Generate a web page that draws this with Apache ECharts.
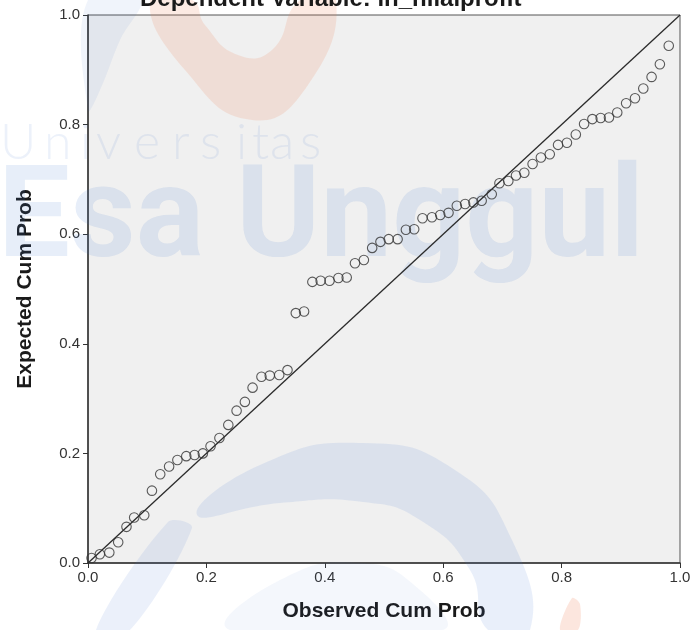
<!DOCTYPE html>
<html>
<head>
<meta charset="utf-8">
<script src="https://cdn.jsdelivr.net/npm/echarts@6/dist/echarts.min.js"></script>
<style>html,body{margin:0;padding:0;background:#fff;}#c{width:696px;height:630px;}</style>
</head>
<body>
<div id="c"></div>
<script>
// Observed cumulative probability (x) and expected cumulative probability (y)
const observed = [0.006,0.020,0.036,0.051,0.065,0.078,0.095,0.108,0.122,0.137,0.151,0.166,0.180,0.194,0.207,0.222,0.237,0.251,0.265,0.278,0.293,0.307,0.323,0.337,0.351,0.365,0.379,0.393,0.408,0.423,0.437,0.451,0.466,0.480,0.494,0.508,0.523,0.537,0.551,0.565,0.581,0.595,0.609,0.623,0.637,0.651,0.665,0.682,0.695,0.710,0.723,0.737,0.751,0.765,0.780,0.794,0.809,0.824,0.838,0.852,0.866,0.880,0.894,0.909,0.924,0.938,0.952,0.966,0.981];
const expected = [0.009,0.016,0.019,0.038,0.066,0.083,0.087,0.132,0.162,0.176,0.188,0.195,0.197,0.200,0.213,0.228,0.252,0.278,0.294,0.320,0.340,0.342,0.343,0.352,0.456,0.459,0.513,0.515,0.515,0.520,0.521,0.547,0.553,0.575,0.586,0.591,0.591,0.608,0.609,0.629,0.631,0.635,0.639,0.652,0.655,0.658,0.661,0.673,0.693,0.697,0.707,0.712,0.728,0.740,0.746,0.763,0.767,0.782,0.801,0.810,0.812,0.813,0.822,0.839,0.848,0.866,0.887,0.910,0.944];
const refLine = [[0,0],[1,1]];
const tickLabels = ['0.0','0.2','0.4','0.6','0.8','1.0'];
const titleText = 'Dependent Variable: ln_nilaiprofit';
const xName = 'Observed Cum Prob';
const yName = 'Expected Cum Prob';
const watermarkSmall = ['U','n','i','v','e','r','s','i','t','a','s'];
const watermarkBig = 'Esa Unggul';

const points = observed.map((x,i)=>[x, expected[i]]);
const fmt = v => tickLabels[Math.round(v/0.2)] || v.toFixed(1);
const font = '"Liberation Sans", Arial, sans-serif';
const smallX = [0,44,80,96,134,172,200,236,252,270,300];

const graphics = [
  {type:'polygon', z:1, silent:true, shape:{smooth:0.5, points:[[150,0],[185,70],[252,120],[308,85],[336,0],[300,0],[272,50],[238,55],[205,25],[192,0]]},
    style:{fill:'rgba(240,130,90,0.17)'}},
  {type:'polygon', z:1, silent:true, shape:{smooth:0.4, points:[[88,0],[140,0],[120,40],[100,90],[88,110]]},
    style:{fill:'rgba(70,120,210,0.08)'}},
  {type:'polygon', z:1, silent:true, shape:{smooth:0.5, points:[[197,515],[260,465],[363,443],[455,470],[512,540],[530,630],[488,630],[470,570],[420,520],[363,502],[280,503]]},
    style:{fill:'rgba(70,120,210,0.12)'}},
  {type:'polygon', z:1, silent:true, shape:{smooth:0.3, points:[[168,522],[192,528],[130,630],[96,630]]},
    style:{fill:'rgba(70,120,210,0.11)'}},
  {type:'polygon', z:1, silent:true, shape:{smooth:0.5, points:[[230,630],[280,580],[363,563],[420,590],[442,630]]},
    style:{fill:'rgba(70,120,210,0.06)'}},
  {type:'polygon', z:1, silent:true, shape:{smooth:0.3, points:[[560,630],[572,598],[580,604],[578,630]]},
    style:{fill:'rgba(240,130,90,0.2)'}},
  {type:'text', z:1, silent:true, left:-2, top:160,
    style:{text:watermarkBig, fontFamily:'Roboto, sans-serif', fontWeight:'bold', fontSize:128, fill:'rgba(70,120,210,0.13)'}}
];
watermarkSmall.forEach((ch,i)=>{
  graphics.push({type:'text', z:1, silent:true, left:smallX[i], top:118,
    style:{text:ch, fontFamily:'Lato, sans-serif', fontWeight:300, fontSize:50, fill:'rgba(70,120,210,0.10)'}});
});

const chart = echarts.init(document.getElementById('c'), null, {renderer:'canvas'});
chart.setOption({
  animation:false,
  backgroundColor:'#ffffff',
  title:{text:titleText, left:135, top:-18,
    textStyle:{fontFamily:font, fontSize:24, fontWeight:'bold', color:'#1a1a1a'}},
  grid:{left:88, right:16, top:15, bottom:67, show:true,
    backgroundColor:'#f0f0f0', borderColor:'#555', borderWidth:1},
  xAxis:{type:'value', min:0, max:1, interval:0.2,
    name:xName, nameLocation:'middle', nameGap:38,
    nameTextStyle:{fontFamily:font, fontSize:21, fontWeight:'bold', color:'#1a1a1a'},
    axisLine:{show:true, lineStyle:{color:'#333', width:1.5}},
    axisTick:{show:true, inside:false, length:5, lineStyle:{color:'#333'}},
    axisLabel:{formatter:fmt, margin:7, fontFamily:font, fontSize:15, color:'#333'},
    splitLine:{show:false}},
  yAxis:{type:'value', min:0, max:1, interval:0.2,
    name:yName, nameLocation:'middle', nameGap:52, nameRotate:90,
    nameTextStyle:{fontFamily:font, fontSize:21, fontWeight:'bold', color:'#1a1a1a'},
    axisLine:{show:true, lineStyle:{color:'#333', width:1.5}},
    axisTick:{show:true, inside:false, length:5, lineStyle:{color:'#333'}},
    axisLabel:{formatter:fmt, margin:8, fontFamily:font, fontSize:15, color:'#333'},
    splitLine:{show:false}},
  graphic:graphics,
  series:[
    {type:'line', data:refLine, showSymbol:false, symbol:'none', z:3,
      lineStyle:{color:'#2b2b2b', width:1.3}, silent:true},
    {type:'scatter', data:points, symbol:'circle', symbolSize:9.5, z:4,
      itemStyle:{color:'rgba(0,0,0,0)', borderColor:'#333', borderWidth:1.1}}
  ]
});
</script>
</body>
</html>
